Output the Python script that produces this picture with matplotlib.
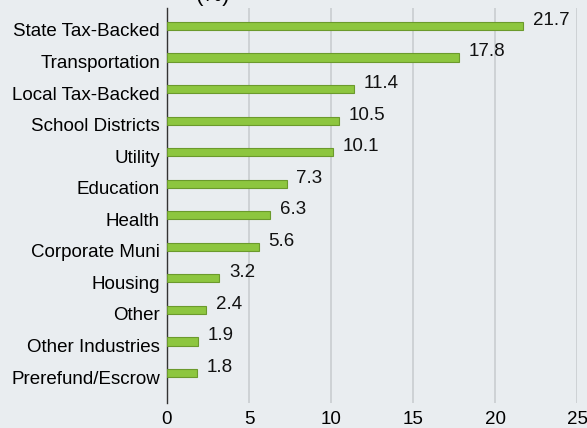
import matplotlib.pyplot as plt
import matplotlib.transforms as mtransforms
import numpy as np

# Sector weights
sectors = ['State Tax-Backed', 'Transportation', 'Local Tax-Backed', 'School Districts',
           'Utility', 'Education', 'Health', 'Corporate Muni', 'Housing', 'Other',
           'Other Industries', 'Prerefund/Escrow']
weights = [21.7, 17.8, 11.4, 10.5, 10.1, 7.3, 6.3, 5.6, 3.2, 2.4, 1.9, 1.8]
xticks = [0, 5, 10, 15, 20, 25]

plt.rcParams['font.family'] = ['Liberation Sans', 'DejaVu Sans']
bg = '#e9edf0'
fs = 13.5

fig = plt.figure(figsize=(5.87, 4.28), dpi=100, facecolor=bg)
ax = fig.add_axes([167/587, 1 - 403/428, 410/587, 395/428], facecolor=bg)

pos = np.arange(len(sectors))
ax.barh(pos, weights, height=0.26, color='#8dc63f', edgecolor='#6b9a2c', linewidth=0.8, zorder=3)

for p, w in zip(pos, weights):
    ax.annotate(f'{w:.1f}', (w, p), xytext=(7, 4), textcoords='offset points',
                va='center', ha='left', fontsize=fs, color='#111111')

ax.set_yticks(pos)
ax.set_yticklabels(sectors, fontsize=fs)
ax.set_xticks(xticks)
ax.set_xticklabels([str(t) for t in xticks], fontsize=fs)
ax.set_xlim(0, 25)
ax.set_ylim(len(sectors) - 1 + 0.95, -0.57)
ax.tick_params(axis='y', length=0, pad=5)
ax.tick_params(axis='x', length=0, pad=6)
ax.xaxis.grid(True, color='#c9cdd0', linewidth=1.2, zorder=0)
for s in ['top', 'right', 'bottom']:
    ax.spines[s].set_visible(False)
ax.spines['left'].set_color('#333333')
ax.spines['left'].set_linewidth(1.0)

# category labels sit a little below their bars
shift = mtransforms.ScaledTranslation(0, -4/100, fig.dpi_scale_trans)
for lbl in ax.get_yticklabels():
    lbl.set_transform(lbl.get_transform() + shift)

# heading, mostly above the top edge
fig.text(213/587, 1 + 5/428, '(%)', ha='center', va='center', fontsize=16)

plt.savefig('out.png', dpi=100, facecolor=bg)
